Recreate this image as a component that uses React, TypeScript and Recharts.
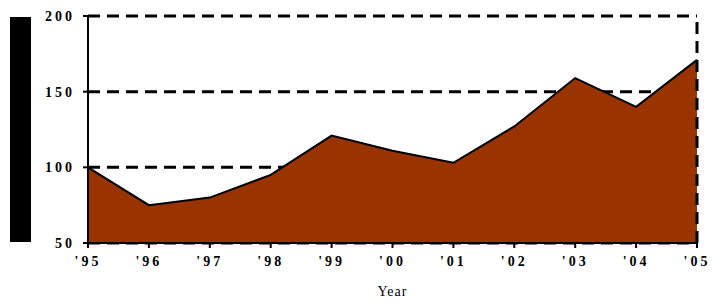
import { AreaChart, Area, XAxis, YAxis, CartesianGrid, ReferenceLine } from 'recharts';

const years = ["'95", "'96", "'97", "'98", "'99", "'00", "'01", "'02", "'03", "'04", "'05"];
const values = [100, 75, 80, 95, 121, 111, 103, 127, 159, 140, 171];
const yTicks = [50, 100, 150, 200];

const data = years.map((year, i) => ({ year, value: values[i] }));

const serif = '"Liberation Serif", "Times New Roman", serif';

const tickFont = {
  fill: '#000',
  fontSize: 14,
  fontWeight: 'bold' as const,
  fontFamily: serif,
  letterSpacing: 3,
};

// the y axis title in the original renders as a solid black block
function BlockLabel(props: any) {
  const vb = props.viewBox || { x: 0, y: 0, width: 0, height: 0 };
  return <rect x={vb.x + 10} y={vb.y + 1} width={21} height={vb.height - 2} fill="#000" />;
}

export default function App() {
  return (
    <div style={{ position: 'absolute', left: 0, top: 0, background: '#fff' }}>
      <AreaChart width={714} height={305} data={data} margin={{ top: 16, right: 17, bottom: 0, left: 0 }}>
        <CartesianGrid vertical={false} stroke="#000" strokeWidth={3} strokeDasharray="12 7" />
        <XAxis
          dataKey="year"
          height={62}
          tick={tickFont}
          tickSize={5}
          tickMargin={8}
          stroke="#000"
          strokeWidth={2}
          label={{
            value: 'Year',
            position: 'insideBottom',
            offset: 9,
            fill: '#000',
            fontSize: 14,
            fontFamily: serif,
            letterSpacing: 1,
          }}
        />
        <YAxis
          width={88}
          domain={[50, 200]}
          ticks={yTicks}
          tick={tickFont}
          tickSize={5}
          tickMargin={8}
          stroke="#000"
          strokeWidth={2}
          label={{ content: BlockLabel }}
        />
        <Area
          type="linear"
          dataKey="value"
          fill="#993300"
          fillOpacity={1}
          stroke="#000"
          strokeWidth={2}
          isAnimationActive={false}
        />
        <ReferenceLine x="'05" stroke="#000" strokeWidth={3} strokeDasharray="12 7" />
      </AreaChart>
    </div>
  );
}
